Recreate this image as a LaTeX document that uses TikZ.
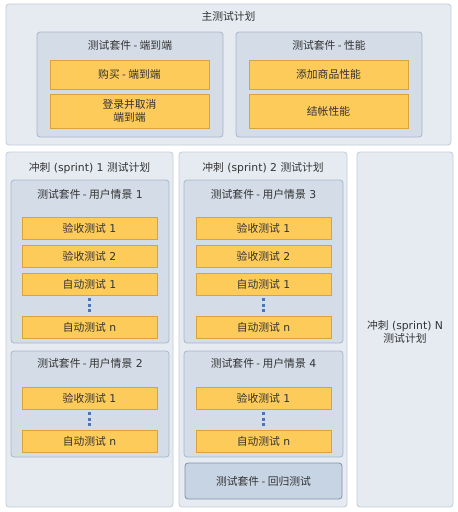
\documentclass[tikz,border=0pt]{standalone}
\usepackage{fontspec}
\setmainfont{DejaVu Sans}
\newfontfamily\cjk{Noto Sans CJK SC}
\newcommand\zh[1]{{\cjk #1}}
\definecolor{planfill}{HTML}{E6EBF2}
\definecolor{planline}{HTML}{C3CCD8}
\definecolor{suitefill}{HTML}{D3DCE7}
\definecolor{suiteline}{HTML}{A7B6C9}
\definecolor{testfill}{HTML}{FDCB5A}
\definecolor{testline}{HTML}{D9A23C}
\definecolor{regfill}{HTML}{C7D4E3}
\definecolor{regline}{HTML}{7F93AD}
\definecolor{dotblue}{HTML}{4F73B5}
\definecolor{txt}{HTML}{333333}
\begin{document}
\begin{tikzpicture}[x=1pt,y=-1pt,
  every node/.style={text=txt,font=\fontsize{10.8}{13.5}\selectfont,inner sep=0pt,align=center},
  plan/.style={draw=planline,fill=planfill,rounded corners=3pt,line width=0.8pt},
  suite/.style={draw=suiteline,fill=suitefill,rounded corners=3pt,line width=0.8pt},
  testbox/.style={draw=testline,fill=testfill,line width=0.8pt,minimum width=159pt},
  item/.style={draw=testline,fill=testfill,line width=0.8pt,minimum width=135pt,minimum height=22pt},
  regr/.style={draw=regline,fill=regfill,rounded corners=3pt,line width=0.8pt},
  more/.style={draw=dotblue,line width=3pt,dash pattern=on 3pt off 2.5pt,shorten >=3pt,shorten <=3pt}]
\useasboundingbox[fill=white] (0,0) rectangle (458,512);
% main plan
\node[plan,minimum width=445pt,minimum height=141pt] (main) at (228.5,74.5) {};
\node (maint) at (228.5,16) {\zh{主测试计划}};
\node[suite,minimum width=186pt,minimum height=105pt] (e2e) at (130,84.5) {};
\node (e2et) at (130,45) {\zh{测试套件 - 端到端}};
\node[testbox,minimum height=29pt] (buy) at (129.5,74.5) {\zh{购买 - 端到端}};
\node[testbox,minimum height=34pt] (login) at (129.5,111) {\zh{登录并取消}\\\zh{端到端}};
\node[suite,minimum width=186pt,minimum height=105pt] (perf) at (329,84.5) {};
\node (perft) at (329,45) {\zh{测试套件 - 性能}};
\node[testbox,minimum height=29pt] (add) at (328.5,74.5) {\zh{添加商品性能}};
\node[testbox,minimum height=34pt] (pay) at (328.5,111) {\zh{结帐性能}};
% sprint 1
\node[plan,minimum width=167pt,minimum height=355pt] (s1) at (89.5,329.5) {};
\node (s1t) at (89.5,168) {\zh{冲刺} (sprint) 1 \zh{测试计划}};
\node[suite,minimum width=158pt,minimum height=163pt] (us1) at (90,261.5) {};
\node (us1t) at (90,194) {\zh{测试套件 - 用户情景} 1};
\node[item] (a1) at (89.5,228) {\zh{验收测试} 1};
\node[item] (a2) at (89.5,256) {\zh{验收测试} 2};
\node[item] (a3) at (89.5,284) {\zh{自动测试} 1};
\node[item] (a4) at (89.5,327) {\zh{自动测试} n};
\draw[more] (a3) -- (a4);
\node[suite,minimum width=158pt,minimum height=106pt] (us2) at (90,404) {};
\node (us2t) at (90,363) {\zh{测试套件 - 用户情景} 2};
\node[item] (b1) at (89.5,398) {\zh{验收测试} 1};
\node[item] (b2) at (89.5,441) {\zh{自动测试} n};
\draw[more] (b1) -- (b2);
% sprint 2
\node[plan,minimum width=168pt,minimum height=355pt] (s2) at (263,329.5) {};
\node (s2t) at (263,168) {\zh{冲刺} (sprint) 2 \zh{测试计划}};
\node[suite,minimum width=159pt,minimum height=163pt] (us3) at (263.5,261.5) {};
\node (us3t) at (263.5,194) {\zh{测试套件 - 用户情景} 3};
\node[item] (c1) at (263.5,228) {\zh{验收测试} 1};
\node[item] (c2) at (263.5,256) {\zh{验收测试} 2};
\node[item] (c3) at (263.5,284) {\zh{自动测试} 1};
\node[item] (c4) at (263.5,327) {\zh{自动测试} n};
\draw[more] (c3) -- (c4);
\node[suite,minimum width=159pt,minimum height=106pt] (us4) at (263.5,404) {};
\node (us4t) at (263.5,363) {\zh{测试套件 - 用户情景} 4};
\node[item] (d1) at (263.5,398) {\zh{验收测试} 1};
\node[item] (d2) at (263.5,441) {\zh{自动测试} n};
\draw[more] (d1) -- (d2);
\node[regr,minimum width=157pt,minimum height=36pt] (reg) at (263.5,481) {\zh{测试套件 - 回归测试}};
% sprint N
\node[plan,minimum width=96pt,minimum height=355pt] (sn) at (405,329.5) {};
\node (snt) at (405,332) {\zh{冲刺} (sprint) N\\\zh{测试计划}};
\end{tikzpicture}
\end{document}
